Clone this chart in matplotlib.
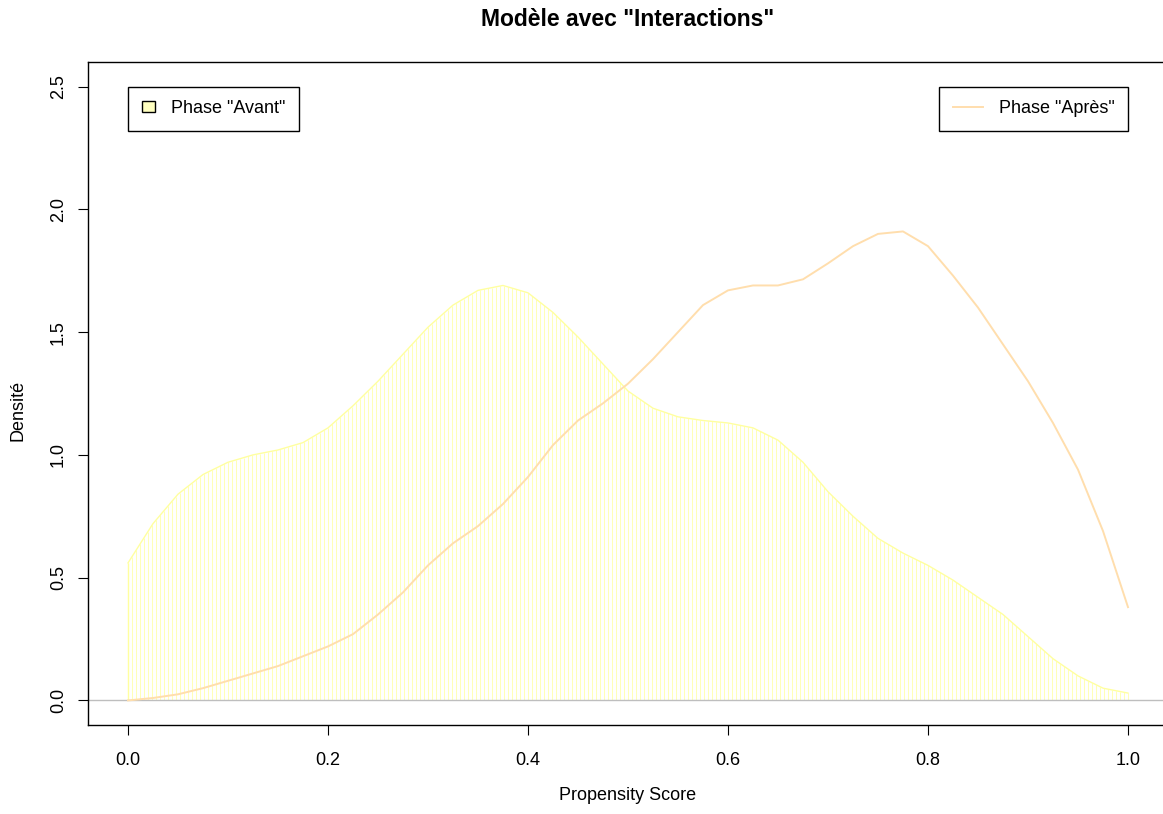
import numpy as np
import matplotlib.pyplot as plt
from matplotlib.patches import Patch
from matplotlib.lines import Line2D

plt.rcParams['font.family'] = ['Liberation Sans', 'DejaVu Sans']

# Densités (pas de 0.025)
score = np.linspace(0, 1, 41)
avant = [0.56, 0.72, 0.84, 0.92, 0.97, 1.00, 1.02, 1.05, 1.11, 1.20,
         1.30, 1.41, 1.52, 1.61, 1.67, 1.69, 1.66, 1.58, 1.48, 1.37,
         1.26, 1.19, 1.155, 1.14, 1.13, 1.11, 1.06, 0.97, 0.85, 0.75,
         0.66, 0.60, 0.55, 0.49, 0.42, 0.35, 0.26, 0.17, 0.10, 0.05, 0.03]
apres = [0.00, 0.01, 0.025, 0.05, 0.08, 0.11, 0.14, 0.18, 0.22, 0.27,
         0.35, 0.44, 0.55, 0.64, 0.71, 0.80, 0.91, 1.04, 1.14, 1.21,
         1.29, 1.39, 1.50, 1.61, 1.67, 1.69, 1.69, 1.715, 1.78, 1.85,
         1.90, 1.91, 1.85, 1.73, 1.60, 1.45, 1.30, 1.13, 0.94, 0.69, 0.38]
xticks = [0.0, 0.2, 0.4, 0.6, 0.8, 1.0]
yticks = [0.0, 0.5, 1.0, 1.5, 2.0, 2.5]

col_avant = '#FFFFA0'
col_hach = '#FFFFB8'
col_apres = '#FFDEAD'

fig = plt.figure(figsize=(11.63, 8.14), dpi=100)
ax = fig.add_axes([88 / 1163, 1 - 725 / 814, 1080 / 1163, 663 / 814])

# phase avant : polygone hachuré (lignes verticales tous les 0.004)
xh = np.arange(0, 1.0001, 0.004)
ax.vlines(xh, 0, np.interp(xh, score, avant), color=col_hach,
          linewidth=0.75)
ax.plot(score, avant, color=col_avant, linewidth=1.0)
ax.vlines(score[0], 0, avant[0], color=col_avant, linewidth=1.0)
ax.axhline(0, color='#BEBEBE', linewidth=1.0)
ax.plot(score, apres, color=col_apres, linewidth=1.4)

ax.set_xlim(-0.04, 1.04)
ax.set_ylim(-0.1, 2.6)
ax.set_xticks(xticks)
ax.set_xticklabels(['%.1f' % v for v in xticks])
ax.set_yticks(yticks)
ax.set_yticklabels(['%.1f' % v for v in yticks], rotation=90, va='center')
ax.tick_params(length=7.2, width=0.8, labelsize=13, color='black')
ax.tick_params(axis='x', pad=12.5)
ax.tick_params(axis='y', pad=8)
for s in ax.spines.values():
    s.set_linewidth(1.0)
    s.set_color('black')

fig.text(628 / 1163, 1 - 20 / 814, 'Modèle avec "Interactions"',
         ha='center', va='center', fontsize=16.5, fontweight='bold')
fig.text(628 / 1163, 1 - 795 / 814, 'Propensity Score', ha='center',
         va='center', fontsize=13)
fig.text(18 / 1163, 1 - 410 / 814, 'Densité', ha='center', va='center',
         fontsize=13, rotation=90)

leg1 = ax.legend(handles=[Patch(facecolor='#FFFFC0', edgecolor='black',
                                linewidth=1.0)],
                 labels=['Phase "Avant"'], loc='upper left',
                 bbox_to_anchor=(0, 2.5), bbox_transform=ax.transData,
                 borderaxespad=0, fontsize=13, fancybox=False,
                 edgecolor='black', framealpha=1, borderpad=0.75,
                 handlelength=0.75, handleheight=0.55, handletextpad=0.9)
leg1.get_frame().set_linewidth(1.0)
ax.add_artist(leg1)
leg2 = ax.legend(handles=[Line2D([], [], color=col_apres, linewidth=1.4)],
                 labels=['Phase "Après"'], loc='upper right',
                 bbox_to_anchor=(1.0, 2.5), bbox_transform=ax.transData,
                 borderaxespad=0, fontsize=13, fancybox=False,
                 edgecolor='black', framealpha=1, borderpad=0.75,
                 handlelength=1.7, handletextpad=0.85)
leg2.get_frame().set_linewidth(1.0)

fig.savefig('out.png', dpi=100)
